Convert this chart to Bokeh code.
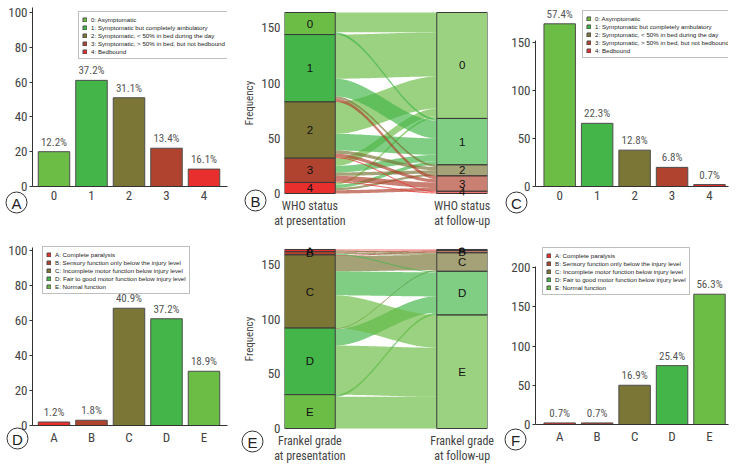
import numpy as np
from bokeh.plotting import figure
from bokeh.models import ColumnDataSource, Range1d, FixedTicker
from bokeh.embed import file_html
from bokeh.resources import INLINE
from bokeh.core.properties import value

# ---------------- data ----------------
who_cats = ["0", "1", "2", "3", "4"]
who_legend = ["0: Asymptomatic",
              "1: Symptomatic but completely ambulatory",
              "2: Symptomatic, < 50% in bed during the day",
              "3: Symptomatic, > 50% in bed, but not bedbound",
              "4: Bedbound"]
who_colors = ["#6cbd45", "#44b649", "#7b7636", "#b0432f", "#e82f2e"]
who_pres_counts = [20, 61, 51, 22, 10]
who_pres_pct = ["12.2%", "37.2%", "31.1%", "13.4%", "16.1%"]
who_fu_counts = [170, 66, 38, 20, 2]
who_fu_pct = ["57.4%", "22.3%", "12.8%", "6.8%", "0.7%"]

frankel_cats = ["A", "B", "C", "D", "E"]
frankel_legend = ["A: Complete paralysis",
                  "B: Sensory function only below the injury level",
                  "C: Incomplete motor function below injury level",
                  "D: Fair to good motor function below injury level",
                  "E: Normal function"]
frankel_colors = ["#e82f2e", "#b0432f", "#7b7636", "#44b649", "#6cbd45"]
frankel_pres_counts = [2, 3, 67, 61, 31]
frankel_pres_pct = ["1.2%", "1.8%", "40.9%", "37.2%", "18.9%"]
frankel_fu_counts = [2, 2, 50, 75, 166]
frankel_fu_pct = ["0.7%", "0.7%", "16.9%", "25.4%", "56.3%"]

# alluvial flows: rows = status at presentation, columns = status at follow-up
who_flows = [[18, 2, 0, 0, 0],
             [40, 16, 2, 3, 0],
             [29, 15, 3, 3, 1],
             [7, 6, 3, 5, 1],
             [2, 3, 2, 3, 0]]
frankel_flows = [[1, 0, 1, 0, 0],
                 [0, 1, 1, 1, 0],
                 [0, 1, 14, 22, 30],
                 [0, 0, 1, 15, 45],
                 [0, 0, 0, 2, 29]]
who_axis_labels = ["WHO status\nat presentation", "WHO status\nat follow-up"]
frankel_axis_labels = ["Frankel grade\nat presentation", "Frankel grade\nat follow-up"]
alluvial_ticks = [0, 50, 100, 150]
panel_letters = ["A", "B", "C", "D", "E", "F"]

NARROW = "Roboto Condensed, DejaVu Sans Condensed, Liberation Sans"
SANS = "Liberation Sans"
TXT = "#444444"
W, H = 741, 465


def base_fig(w, h, pos, borders, xr, yr):
    l, r, t, b = borders
    p = figure(width=w, height=h, x_range=Range1d(*xr), y_range=Range1d(*yr),
               output_backend="svg", toolbar_location=None,
               min_border_left=l, min_border_right=r, min_border_top=t,
               min_border_bottom=b,
               styles={"position": "absolute", "left": f"{pos[0]}px",
                       "top": f"{pos[1]}px"})
    p.xgrid.visible = False
    p.ygrid.visible = False
    p.outline_line_color = None
    return p


def bar_panel(cats, counts, pcts, colors, legend_labels, w, h, pos, borders, xr, yr,
              yticks, ybounds, legend_pos):
    p = base_fig(w, h, pos, borders, xr, yr)
    n = len(cats)
    src = ColumnDataSource(dict(x=list(range(n)), top=counts, color=colors,
                                legend=legend_labels, pct=pcts))
    p.vbar(x="x", top="top", bottom=0, width=0.84, fill_color="color",
           line_color="#4d4d4d", line_width=1, source=src, legend_field="legend")
    p.text(x="x", y="top", text="pct", source=src, text_align="center",
           text_baseline="bottom", y_offset=-3, text_font=value(NARROW),
           text_font_size="11px", text_color="#555555")
    xa = p.xaxis[0]
    xa.ticker = FixedTicker(ticks=list(range(n)))
    xa.major_label_overrides = {i: c for i, c in enumerate(cats)}
    xa.major_tick_out = 0
    xa.major_tick_in = 0
    xa.minor_tick_out = 0
    xa.minor_tick_in = 0
    xa.major_label_standoff = 4
    xa.axis_line_color = "#333333"
    xa.major_label_text_font = NARROW
    xa.major_label_text_font_size = "13px"
    xa.major_label_text_color = TXT
    ya = p.yaxis[0]
    ya.ticker = FixedTicker(ticks=yticks)
    ya.bounds = ybounds
    ya.major_tick_out = 3
    ya.major_tick_in = 0
    ya.minor_tick_out = 0
    ya.minor_tick_in = 0
    ya.major_label_standoff = 2
    ya.axis_line_color = "#333333"
    ya.major_tick_line_color = "#333333"
    ya.major_label_text_font = NARROW
    ya.major_label_text_font_size = "13px"
    ya.major_label_text_color = TXT
    lg = p.legend[0]
    lg.location = legend_pos
    lg.label_text_font = SANS
    lg.label_text_font_size = "6.2px"
    lg.label_text_color = "#222222"
    lg.label_height = 8
    lg.glyph_height = 5
    lg.glyph_width = 5
    lg.label_standoff = 4
    lg.spacing = 0
    lg.padding = 3
    lg.margin = 0
    lg.border_line_color = "#7f7f7f"
    lg.border_line_width = 1
    lg.background_fill_alpha = 1
    return p


def alluvial_panel(flows, cats, colors, axis_labels, w, h, pos, borders):
    fl = np.array(flows, dtype=float)
    n = len(cats)
    left = fl.sum(axis=1)
    right = fl.sum(axis=0)
    total = left.sum()
    sw = 1.0 / 3.0
    pad = 2 * total / 181.0
    p = base_fig(w, h, pos, borders, (1 - sw / 2, 2 + sw / 2), (-pad, total + pad))
    lt = total - np.concatenate([[0], np.cumsum(left)[:-1]])
    rt = total - np.concatenate([[0], np.cumsum(right)[:-1]])
    l_off, r_off = {}, {}
    for i in range(n):
        y = lt[i]
        for j in range(n):
            l_off[(i, j)] = (y, y - fl[i, j])
            y -= fl[i, j]
    for j in range(n):
        y = rt[j]
        for i in range(n):
            r_off[(i, j)] = (y, y - fl[i, j])
            y -= fl[i, j]
    t = np.linspace(0, 1, 60)
    s = t * t * (3 - 2 * t)
    x0, x1 = 1 + sw / 2, 2 - sw / 2
    xc = x0 + (x1 - x0) * t
    xs, ys, fc = [], [], []
    for j in range(n):
        for i in range(n):
            if fl[i, j] == 0:
                continue
            a0, b0 = l_off[(i, j)]
            a1, b1 = r_off[(i, j)]
            top = a0 + (a1 - a0) * s
            bot = b0 + (b1 - b0) * s
            xs.append(list(xc) + list(xc[::-1]))
            ys.append(list(top) + list(bot[::-1]))
            fc.append(colors[j])
    p.patches(xs, ys, fill_color=fc, fill_alpha=0.68, line_color=None)
    p.quad(left=[1 - sw / 2] * n, right=[1 + sw / 2] * n, top=lt, bottom=lt - left,
           fill_color=colors, line_color="#3a3a3a", line_width=1)
    p.quad(left=[2 - sw / 2] * n, right=[2 + sw / 2] * n, top=rt, bottom=rt - right,
           fill_color=colors, fill_alpha=0.68, line_color="#3a3a3a", line_width=1)
    for xpos, tops, sizes in ((1, lt, left), (2, rt, right)):
        p.text(x=[xpos] * n, y=tops - sizes / 2, text=cats, text_align="center",
               text_baseline="middle", text_font=value(SANS), text_font_size="11.5px",
               text_color="#111111")
    xa = p.xaxis[0]
    xa.ticker = FixedTicker(ticks=[1, 2])
    xa.major_label_overrides = {1: axis_labels[0], 2: axis_labels[1]}
    xa.axis_line_color = None
    xa.major_tick_line_color = None
    xa.minor_tick_line_color = None
    xa.major_tick_out = 0
    xa.major_tick_in = 0
    xa.major_label_standoff = 3
    xa.major_label_text_font = NARROW
    xa.major_label_text_font_size = "12px"
    xa.major_label_text_color = TXT
    xa.major_label_text_line_height = 1.1
    ya = p.yaxis[0]
    ya.ticker = FixedTicker(ticks=alluvial_ticks)
    ya.axis_line_color = None
    ya.major_tick_line_color = None
    ya.minor_tick_line_color = None
    ya.major_tick_out = 0
    ya.major_tick_in = 0
    ya.major_label_standoff = 4
    ya.major_label_text_font = NARROW
    ya.major_label_text_font_size = "13px"
    ya.major_label_text_color = TXT
    ya.axis_label = "Frequency"
    ya.axis_label_text_font = NARROW
    ya.axis_label_text_font_style = "normal"
    ya.axis_label_text_font_size = "11px"
    ya.axis_label_text_color = TXT
    ya.axis_label_standoff = 2
    return p


# borders are (left, right, top, bottom) in pixels; pos is the panel's top-left corner
pA = bar_panel(who_cats, who_pres_counts, who_pres_pct, who_colors, who_legend,
               240, 235, (0, 0), (32, 13, 7, 49), (-0.5733, 4.6267), (0, 179 / 1.74),
               [0, 20, 40, 60, 80, 100], (0, 103), (46, 127))
pB = alluvial_panel(who_flows, who_cats, who_colors, who_axis_labels,
                    260, 235, (240, 0), (37, 13, 10, 40))
pC = bar_panel(who_cats, who_fu_counts, who_fu_pct, who_colors, who_legend,
               241, 235, (500, 0), (35, 13, 7, 49), (-0.646, 4.507), (0, 179 / 0.957),
               [0, 50, 100, 150], (0, 153), (47, 128))
pD = bar_panel(frankel_cats, frankel_pres_counts, frankel_pres_pct, frankel_colors,
               frankel_legend, 240, 230, (0, 235), (32, 13, 9, 40), (-0.5733, 4.6267),
               (0, 181 / 1.75), [0, 20, 40, 60, 80, 100], (0, 102), (10, 131))
pE = alluvial_panel(frankel_flows, frankel_cats, frankel_colors, frankel_axis_labels,
                    260, 230, (240, 235), (37, 13, 12, 33))
pF = bar_panel(frankel_cats, frankel_fu_counts, frankel_fu_pct, frankel_colors,
               frankel_legend, 241, 230, (500, 235), (35, 13, 8, 41), (-0.646, 4.507),
               (0, 181 / 0.785), [0, 50, 100, 150, 200], (0, 201), (7, 129))

# overlay with the circled panel letters, in page pixels
letter_x = [16, 255, 516, 17, 252, 515]
letter_y = [202, 200, 202, 438, 441, 439]
ov = figure(width=W, height=H, x_range=Range1d(0, W), y_range=Range1d(H, 0),
            output_backend="svg", toolbar_location=None, min_border=0,
            x_axis_location=None, y_axis_location=None,
            styles={"position": "absolute", "left": "0px", "top": "0px"})
ov.grid.visible = False
ov.outline_line_color = None
ov.background_fill_alpha = 0
ov.border_fill_alpha = 0
ov.scatter(x=letter_x, y=letter_y, marker="circle", size=21, fill_color=None,
           line_color="#333333", line_width=1)
ov.text(x=letter_x, y=letter_y, text=panel_letters, text_align="center",
        text_baseline="middle", y_offset=1, text_font=value(SANS),
        text_font_size="15px", text_color="#222222")

open("out.html", "w").write(file_html([pA, pB, pC, pD, pE, pF, ov], INLINE))
